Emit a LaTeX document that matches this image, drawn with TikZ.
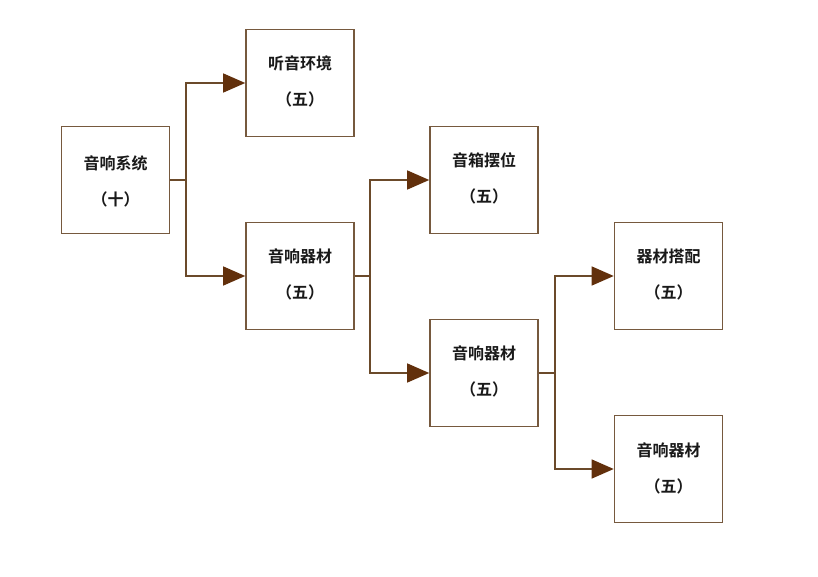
\documentclass[tikz,border=0pt]{standalone}
\usepackage{fontspec}
\newfontfamily\cjk{Noto Sans CJK SC Bold}
\usetikzlibrary{arrows.meta}
\definecolor{linec}{HTML}{6B4A2A}
\definecolor{boxc}{HTML}{76593E}
\definecolor{tipc}{HTML}{62300C}
\tikzset{
  box/.style={draw=boxc, line width=1.6pt, minimum width=108pt, minimum height=107pt, inner sep=0pt, fill=white},
  lbl/.style={font=\cjk\fontsize{16pt}{16pt}\selectfont, text=black!90},
  conn/.style={draw=linec, line width=1.3pt},
  arr/.style={conn, -{Triangle[length=22pt,width=19pt,fill=tipc,color=tipc]}},
}
\begin{document}
\begin{tikzpicture}[x=1pt,y=-1pt]
\useasboundingbox (0,0) rectangle (818,577);
% boxes
\node[box] (a) at (115.5,180) {};
\node[box] (b) at (300,83) {};
\node[box] (c) at (300,276) {};
\node[box] (d) at (484,180) {};
\node[box] (e) at (484,373) {};
\node[box] (f) at (668.5,276) {};
\node[box] (g) at (668.5,469) {};
% labels
\node[lbl] (a1) at (115.5,163) {音响系统};
\node[lbl] (a2) at (115.5,199) {（十）};
\node[lbl] (b1) at (300,63) {听音环境};
\node[lbl] (b2) at (300,99) {（五）};
\node[lbl] (c1) at (300,256) {音响器材};
\node[lbl] (c2) at (300,292) {（五）};
\node[lbl] (d1) at (484,160) {音箱摆位};
\node[lbl] (d2) at (484,196) {（五）};
\node[lbl] (e1) at (484,353) {音响器材};
\node[lbl] (e2) at (484,389) {（五）};
\node[lbl] (f1) at (668.5,256) {器材搭配};
\node[lbl] (f2) at (668.5,292) {（五）};
\node[lbl] (g1) at (668.5,450) {音响器材};
\node[lbl] (g2) at (668.5,486) {（五）};
% junction coordinates
\coordinate (ja) at (186,180);
\coordinate (jc) at (370,276);
\coordinate (je) at (555,373);
% connectors
\draw[conn] (a.east) -- (ja);
\draw[arr] (ja) |- (b.west);
\draw[arr] (ja) |- (c.west);
\draw[conn] (c.east) -- (jc);
\draw[arr] (jc) |- (d.west);
\draw[arr] (jc) |- (e.west);
\draw[conn] (e.east) -- (je);
\draw[arr] (je) |- (f.west);
\draw[arr] (je) |- (g.west);
\end{tikzpicture}
\end{document}
